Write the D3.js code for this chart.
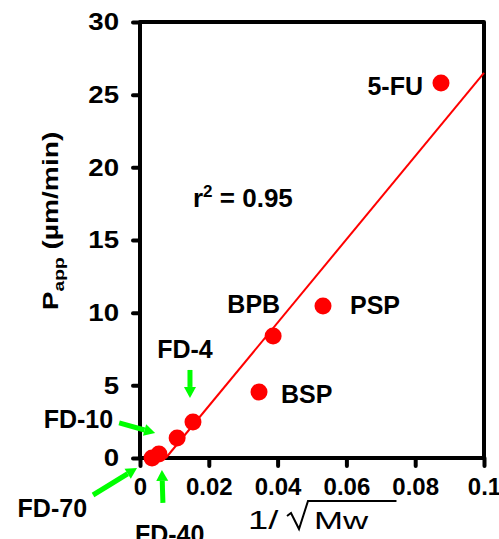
<!DOCTYPE html>
<html>
<head>
<meta charset="utf-8">
<script src="https://cdn.jsdelivr.net/npm/d3@7"></script>
<style>
  body { margin: 0; background: #fff; }
  svg { display: block; }
</style>
</head>
<body>
<div id="chart"></div>
<script>
// Papp vs 1/sqrt(Mw) scatter with linear fit.

const compounds = ['5-FU', 'PSP', 'BPB', 'BSP', 'FD-4', 'FD-10', 'FD-40', 'FD-70'];
const invSqrtMw = [0.0875, 0.0532, 0.0387, 0.0346, 0.0154, 0.0108, 0.0055, 0.0035];
const papp      = [25.8, 10.46, 8.39, 4.54, 2.48, 1.38, 0.28, 0.0];

const fitX = [0.0075, 0.1];
const fitY = [0, 26.5];
const rSquared = '0.95';

const xTicks = [0, 0.02, 0.04, 0.06, 0.08, 0.1];
const xTickLabels = ['0', '0.02', '0.04', '0.06', '0.08', '0.1'];
const yTicks = [0, 5, 10, 15, 20, 25, 30];

// label placement (pixel offsets from the point)
const labelLayout = {
  '5-FU':  { dx: -18, dy: 12,  anchor: 'end' },
  'PSP':   { dx: 27,  dy: 8,   anchor: 'start' },
  'BPB':   { dx: 7,   dy: -23, anchor: 'end' },
  'BSP':   { dx: 22,  dy: 11,  anchor: 'start' },
  'FD-4':  { dx: -8,  dy: -64, anchor: 'middle', arrow: [[-3, -52], [-3, -24]] },
  'FD-10': { dx: -64, dy: -10, anchor: 'end',    arrow: [[-58, -15], [-22, -5]] },
  'FD-40': { dx: -24, dy: 89,  anchor: 'start',  arrow: [[4, 49], [3, 16]] },
  'FD-70': { dx: -65, dy: 59,  anchor: 'end',    arrow: [[-59, 37], [-15, 10]] },
};

const W = 499, H = 539;
const M = { top: 22, right: 15, bottom: 81, left: 140 };
const innerW = W - M.left - M.right;
const innerH = H - M.top - M.bottom;
const FONT = "Arial, 'Liberation Sans', sans-serif";
const RED = '#ff0000';
const GREEN = '#00ff00';

const svg = d3.select('#chart').append('svg')
  .attr('width', W).attr('height', H)
  .attr('font-family', FONT);

const g = svg.append('g').attr('transform', `translate(${M.left},${M.top})`);

const x = d3.scaleLinear().domain([0, 0.1]).range([0, innerW]);
const y = d3.scaleLinear().domain([0, 30]).range([innerH, 0]);

// widen glyphs a bit (reference font is broader than Arial)
function stretch(sel, k) {
  sel.each(function() {
    const w = this.getComputedTextLength();
    d3.select(this).attr('textLength', w * k).attr('lengthAdjust', 'spacingAndGlyphs');
  });
}

// axes
const yAxis = d3.axisLeft(y).tickValues(yTicks).tickSize(7).tickSizeOuter(0).tickPadding(14);
const xAxis = d3.axisBottom(x).tickValues(xTicks).tickSize(8).tickSizeOuter(0).tickPadding(12)
  .tickFormat((d, i) => xTickLabels[i]);

function styleAxis(ax) {
  ax.select('.domain').remove();
  ax.selectAll('.tick line').attr('stroke', '#000').attr('stroke-width', 4).attr('stroke-linecap', 'round');
  ax.selectAll('.tick text').attr('fill', '#000').attr('font-size', 24)
    .attr('font-weight', 'bold').attr('font-family', FONT);
}

g.append('g').call(yAxis).call(styleAxis)
  .call(ax => stretch(ax.selectAll('.tick text'), 1.15));
g.append('g').attr('transform', `translate(0,${innerH})`).call(xAxis).call(styleAxis);

// frame
g.append('rect')
  .attr('width', innerW).attr('height', innerH)
  .attr('fill', 'none').attr('stroke', '#000').attr('stroke-width', 4)
  .attr('stroke-linejoin', 'round');

// fit line
g.append('line')
  .attr('x1', x(fitX[0])).attr('y1', y(fitY[0]))
  .attr('x2', x(fitX[1])).attr('y2', y(fitY[1]))
  .attr('stroke', RED).attr('stroke-width', 2);

// points
const pts = compounds.map((c, i) => ({ name: c, x: invSqrtMw[i], y: papp[i] }));

g.selectAll('.pt').data(pts).enter().append('circle')
  .attr('class', 'pt')
  .attr('cx', d => x(d.x)).attr('cy', d => y(d.y))
  .attr('r', 8.5).attr('fill', RED);

// labels
g.selectAll('.lbl').data(pts).enter().append('text')
  .attr('class', 'lbl')
  .attr('x', d => x(d.x) + labelLayout[d.name].dx)
  .attr('y', d => y(d.y) + labelLayout[d.name].dy)
  .attr('text-anchor', d => labelLayout[d.name].anchor)
  .attr('font-size', 25).attr('font-weight', 'bold').attr('fill', '#000')
  .text(d => d.name);

// green arrows
function drawArrow(x1, y1, x2, y2) {
  const ang = Math.atan2(y2 - y1, x2 - x1);
  const headL = 11, headW = 6;
  const bx = x2 - headL * Math.cos(ang), by = y2 - headL * Math.sin(ang);
  g.append('line')
    .attr('x1', x1).attr('y1', y1).attr('x2', bx).attr('y2', by)
    .attr('stroke', GREEN).attr('stroke-width', 5);
  const px = -Math.sin(ang) * headW, py = Math.cos(ang) * headW;
  g.append('path')
    .attr('d', `M${x2},${y2}L${bx + px},${by + py}L${bx - px},${by - py}Z`)
    .attr('fill', GREEN);
}

pts.forEach(d => {
  const a = labelLayout[d.name].arrow;
  if (!a) return;
  const cx = x(d.x), cy = y(d.y);
  drawArrow(cx + a[0][0], cy + a[0][1], cx + a[1][0], cy + a[1][1]);
});

// r^2 annotation
const rT = g.append('text')
  .attr('x', x(0.0154)).attr('y', y(17.3))
  .attr('font-size', 26).attr('font-weight', 'bold').attr('fill', '#000');
rT.append('tspan').text('r');
rT.append('tspan').attr('font-size', 17).attr('dy', -10).text('2');
rT.append('tspan').attr('dy', 10).text(' = ' + rSquared);

// y title
const yT = svg.append('text')
  .attr('transform', `translate(58,221) rotate(-90) scale(1.28,1)`)
  .attr('text-anchor', 'middle')
  .attr('font-size', 22).attr('font-weight', 'bold').attr('fill', '#000');
yT.append('tspan').text('P');
yT.append('tspan').attr('font-size', 15).attr('dy', 6).text('app');
yT.append('tspan').attr('dy', -6).text(' (\u00b5m/min)');

// x title: 1/ sqrt(Mw)
const xt = svg.append('g').attr('transform', `translate(${M.left + innerW / 2},529)`);
const t1 = xt.append('text').attr('x', -64).attr('font-size', 25).attr('fill', '#000').text('1/');
stretch(t1, 1.45);
const t2 = xt.append('text').attr('x', 2).attr('font-size', 24).attr('fill', '#000').text('Mw');
stretch(t2, 1.45);
const w2 = t2.node().getComputedTextLength() * 1.45;
xt.append('path')
  .attr('d', `M-25,-13L-21,-16L-13,0L-4,-28L${w2 + 6},-28`)
  .attr('fill', 'none').attr('stroke', '#000').attr('stroke-width', 2)
  .attr('stroke-linejoin', 'miter');
</script>
</body>
</html>
